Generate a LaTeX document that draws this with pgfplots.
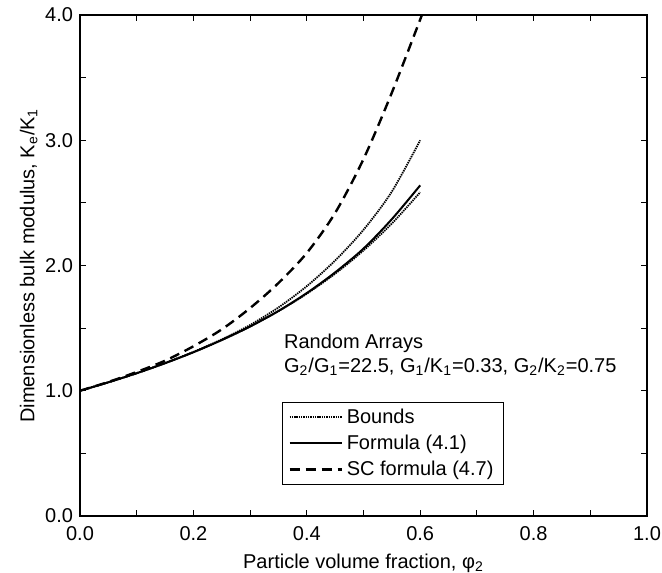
\documentclass[border=0pt]{standalone}
\usepackage{pgfplots}
\pgfplotsset{compat=1.18}
\usepackage{fontspec}
\setmainfont{Liberation Sans}
\begin{document}
\fontsize{10}{12}\selectfont
\begin{tikzpicture}
\begin{axis}[
  name=ax,
  scale only axis, width=283.5pt, height=250.5pt,
  xmin=0, xmax=1, ymin=0, ymax=4,
  xtick={0,0.2,0.4,0.6,0.8,1.0}, minor x tick num=1,
  ytick={0,1,2,3,4}, minor y tick num=1,
  tick align=inside, major tick length=3.2pt, minor tick length=3.2pt,
  axis line style={line width=0.6pt},
  every tick/.style={line width=0.5pt},
  /pgf/number format/assume math mode=true,
  xticklabel style={yshift=-1.5pt, /pgf/number format/fixed, /pgf/number format/fixed zerofill, /pgf/number format/precision=1},
  yticklabel style={/pgf/number format/fixed, /pgf/number format/fixed zerofill, /pgf/number format/precision=1},
  tick label style={font=\fontsize{10}{11}\selectfont},
  xlabel={Particle volume fraction, φ\textsubscript{2}},
  ylabel={Dimensionless bulk modulus, K\textsubscript{e}/K\textsubscript{1}},
  ylabel style={yshift=-3pt},
  label style={font=\fontsize{10}{11}\selectfont},
  legend style={at={(axis cs:0.356,0.91)}, anchor=north west, draw=black, line width=0.5pt,
    font=\fontsize{10}{11}\selectfont, row sep=0.3pt, inner xsep=3pt, inner ysep=1pt},
  legend cell align=left,
  legend image code/.code={\draw[#1] (0pt,0pt) -- (26pt,0pt);},
]
% upper bound
\addplot[black, line width=0.9pt, dash pattern=on 0.7pt off 0.45pt, smooth] coordinates {
(0,1.0) (0.05,1.0675) (0.1,1.14) (0.15,1.222) (0.2,1.31) (0.25,1.41) (0.3,1.525) (0.35,1.665) (0.4,1.835) (0.45,2.04) (0.5,2.285) (0.55,2.59) (0.6,3.0)};
\addlegendentry{Bounds}
% formula 4.1
\addplot[black, line width=1.0pt, smooth] coordinates {
(0,1.0) (0.05,1.0675) (0.1,1.14) (0.15,1.22) (0.2,1.3075) (0.25,1.405) (0.3,1.513) (0.35,1.637) (0.4,1.78) (0.45,1.945) (0.5,2.135) (0.55,2.37) (0.6,2.64)};
\addlegendentry{Formula (4.1)}
% SC formula 4.7
\addplot[black, line width=1.2pt, dash pattern=on 5pt off 3pt, smooth] coordinates {
(0,1.0) (0.05,1.07) (0.1,1.15) (0.15,1.24) (0.2,1.355) (0.25,1.49) (0.3,1.66) (0.35,1.86) (0.4,2.1) (0.45,2.42) (0.5,2.85) (0.55,3.38) (0.603,4.0)};
\addlegendentry{SC formula (4.7)}
% lower bound
\addplot[black, line width=0.9pt, dash pattern=on 0.7pt off 0.45pt, smooth, forget plot] coordinates {
(0,1.0) (0.05,1.0675) (0.1,1.14) (0.15,1.22) (0.2,1.3075) (0.25,1.405) (0.3,1.513) (0.35,1.635) (0.4,1.775) (0.45,1.935) (0.5,2.12) (0.55,2.335) (0.6,2.585)};
\node[anchor=west, align=left, font=\fontsize{10}{12}\selectfont] at (axis cs:0.3475,1.285)
  {Random Arrays\\G\textsubscript{2}/G\textsubscript{1}=22.5, G\textsubscript{1}/K\textsubscript{1}=0.33, G\textsubscript{2}/K\textsubscript{2}=0.75};
\end{axis}
\pgfresetboundingbox
\path (-40pt,-28pt) rectangle (291pt,258pt);
\end{tikzpicture}
\end{document}
